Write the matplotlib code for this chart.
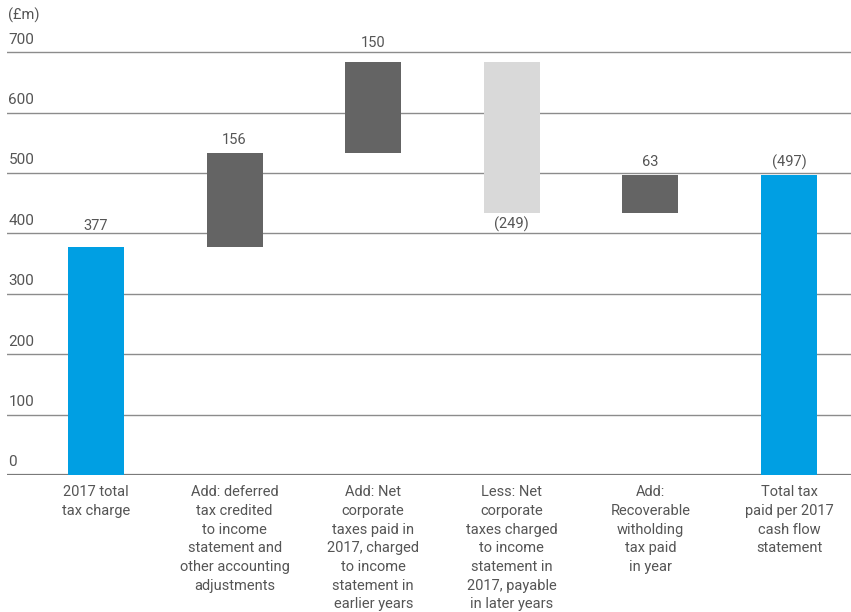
import numpy as np
import matplotlib.pyplot as plt

plt.rcParams['font.family'] = ['Roboto', 'DejaVu Sans']

categories = ['2017 total\ntax charge',
              'Add: deferred\ntax credited\nto income\nstatement and\nother accounting\nadjustments',
              'Add: Net\ncorporate\ntaxes paid in\n2017, charged\nto income\nstatement in\nearlier years',
              'Less: Net\ncorporate\ntaxes charged\nto income\nstatement in\n2017, payable\nin later years',
              'Add:\nRecoverable\nwitholding\ntax paid\nin year',
              'Total tax\npaid per 2017\ncash flow\nstatement']
changes = [377, 156, 150, -249, 63]
total = 497
value_labels = ['377', '156', '150', '(249)', '63', '(497)']
yticks = [0, 100, 200, 300, 400, 500, 600, 700]

blue = '#009fe3'
dark = '#646464'
light = '#d9d9d9'
txt = '#555555'

# label offsets from bar end, in points (negative = below the bar)
label_offsets = [15, 9.5, 14, -8, 9, 9]

# waterfall bottoms / heights
bottoms, heights, colors = [], [], []
running = 0
for i, c in enumerate(changes):
    if i == 0:
        bottoms.append(0)
        heights.append(c)
        colors.append(blue)
    else:
        bottoms.append(running if c > 0 else running + c)
        heights.append(abs(c))
        colors.append(dark if c > 0 else light)
    running += c
bottoms.append(0)
heights.append(total)
colors.append(blue)

fig = plt.figure(figsize=(8.51, 6.12), dpi=100)
ax = fig.add_axes([7 / 851, 1 - 475 / 612, 844 / 851, (475 - 28) / 612])

x = np.arange(len(categories))
ax.bar(x, heights, bottom=bottoms, width=0.404, color=colors, zorder=3)

ax.set_xlim(-0.642, 5.447)
ax.set_ylim(0, 740)

for y in yticks:
    ax.axhline(y, color='#7a7a7a' if y == 0 else '#8c8c8c', lw=1.6 if y == 0 else 1.0, zorder=2)
    ax.annotate(str(y), xy=(0, y), xycoords=('axes fraction', 'data'),
                xytext=(1, 4), textcoords='offset points', ha='left', va='bottom',
                fontsize=11, color=txt)

for i in range(len(x)):
    off = label_offsets[i]
    anchor = bottoms[i] if off < 0 else bottoms[i] + heights[i]
    ax.annotate(value_labels[i], xy=(x[i], anchor), xytext=(0, off),
                textcoords='offset points', ha='center', va='center',
                fontsize=10.5, color=txt)

ax.set_xticks(x)
ax.set_xticklabels(categories, fontsize=10.5, color=txt, linespacing=1.42)
ax.tick_params(axis='x', length=0, pad=7.5)
ax.set_yticks([])
for s in ax.spines.values():
    s.set_visible(False)

fig.text(8 / 851, 1 - 15 / 612, '(£m)', ha='left', va='center', fontsize=10.5, color=txt)

fig.savefig('out.png', dpi=100)
